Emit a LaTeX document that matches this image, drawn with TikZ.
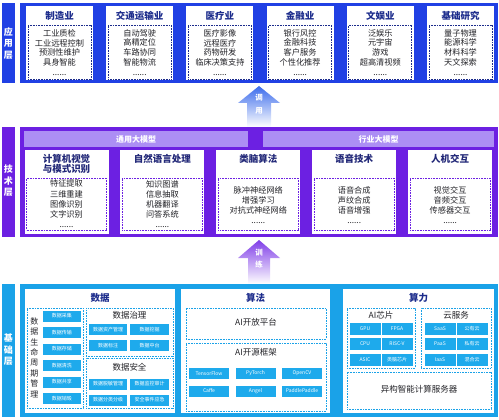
\documentclass[tikz,border=0pt]{standalone}
\usepackage{fontspec}
\setmainfont{Noto Sans CJK SC}
\definecolor{appblue}{RGB}{32,64,228}
\definecolor{appnavy}{RGB}{28,44,140}
\definecolor{techpurple}{RGB}{108,32,226}
\definecolor{technavy}{RGB}{34,40,120}
\definecolor{lavender}{RGB}{172,142,244}
\definecolor{baseblue}{RGB}{26,162,232}
\definecolor{chipblue}{RGB}{30,170,236}
\definecolor{inktext}{RGB}{35,35,40}
\definecolor{arrowblue}{RGB}{60,108,236}
\definecolor{arrowpurple}{RGB}{128,62,232}

\begin{document}
\begin{tikzpicture}[x=1pt,y=-1pt,
  box/.style={inner sep=0pt,outer sep=0pt},
  card/.style={box,fill=white},
  dotbox/.style={box,draw=#1,dash pattern=on .8pt off .8pt,line width=.7pt},
  bartext/.style={text=white,font=\bfseries\fontsize{9}{11.5}\selectfont,align=center},
  cardtitle/.style={font=\bfseries\fontsize{9.5}{10.5}\selectfont,text=#1,align=center},
  itemlist/.style={font=\fontsize{8.2}{9.9}\selectfont,text=inktext,align=center},
  subtitle/.style={font=\fontsize{8.5}{10}\selectfont,text=inktext},
  chip/.style={box,fill=chipblue,text=white,font=\fontsize{5}{6}\selectfont}]

\useasboundingbox (0,0) rectangle (499,420);

% application layer
\node [box,fill=appblue,minimum width=13,minimum height=80] at (8.5,43) (appbar) {};
\node [bartext] at (8.5,43.5) (appbarl) {应\\用\\层};
\node [box,fill=appblue,minimum width=478,minimum height=80] at (259,43) (apppanel) {};

\node [card,minimum width=67,minimum height=74] at (59.5,43) (app0) {};
\node [card,minimum width=67,minimum height=74] at (139.7,43) (app1) {};
\node [card,minimum width=67,minimum height=74] at (219.9,43) (app2) {};
\node [card,minimum width=67,minimum height=74] at (300.1,43) (app3) {};
\node [card,minimum width=67,minimum height=74] at (380.3,43) (app4) {};
\node [card,minimum width=67,minimum height=74] at (460.5,43) (app5) {};

\node [cardtitle=appnavy] at (59.5,16) (appt0) {制造业};
\node [cardtitle=appnavy] at (139.7,16) (appt1) {交通运输业};
\node [cardtitle=appnavy] at (219.9,16) (appt2) {医疗业};
\node [cardtitle=appnavy] at (300.1,16) (appt3) {金融业};
\node [cardtitle=appnavy] at (380.3,16) (appt4) {文娱业};
\node [cardtitle=appnavy] at (460.5,16) (appt5) {基础研究};

\node [dotbox=appnavy,minimum width=63,minimum height=54] at (59.5,52) (appd0) {};
\node [dotbox=appnavy,minimum width=63,minimum height=54] at (139.7,52) (appd1) {};
\node [dotbox=appnavy,minimum width=63,minimum height=54] at (219.9,52) (appd2) {};
\node [dotbox=appnavy,minimum width=63,minimum height=54] at (300.1,52) (appd3) {};
\node [dotbox=appnavy,minimum width=63,minimum height=54] at (380.3,52) (appd4) {};
\node [dotbox=appnavy,minimum width=63,minimum height=54] at (460.5,52) (appd5) {};

\node [itemlist] at (59.5,52.5) (appi0) {工业质检\\工业远程控制\\预测性维护\\具身智能\\......};
\node [itemlist] at (139.7,52.5) (appi1) {自动驾驶\\高精定位\\车路协同\\智能物流\\......};
\node [itemlist] at (219.9,52.5) (appi2) {医疗影像\\远程医疗\\药物研发\\临床决策支持\\......};
\node [itemlist] at (300.1,52.5) (appi3) {银行风控\\金融科技\\客户服务\\个性化推荐\\......};
\node [itemlist] at (380.3,52.5) (appi4) {泛娱乐\\元宇宙\\游戏\\超高清视频\\......};
\node [itemlist] at (460.5,52.5) (appi5) {量子物理\\能源科学\\材料科学\\天文探索\\......};

% arrow: call
\shade [top color=arrowblue,bottom color=white] (238,103) -- (259,86) -- (280,103) -- (271,103) -- (271,127) -- (247,127) -- (247,103) -- cycle;
\node [bartext,font=\bfseries\fontsize{7.5}{13}\selectfont] at (259,104) (call) {调\\用};

% technology layer
\node [box,fill=techpurple,minimum width=13,minimum height=110] at (8.5,182) (techbar) {};
\node [bartext] at (8.5,181) (techbarl) {技\\术\\层};
\node [box,fill=techpurple,minimum width=478,minimum height=110] at (259,182) (techpanel) {};

\node [box,fill=lavender,minimum width=224,minimum height=16] at (136,139) (gen) {};
\node [bartext,font=\bfseries\fontsize{8}{10}\selectfont] at (136,139) (genl) {通用大模型};
\node [box,fill=lavender,minimum width=231,minimum height=16] at (378.5,139) (ind) {};
\node [bartext,font=\bfseries\fontsize{8}{10}\selectfont] at (378.5,139) (indl) {行业大模型};

\node [card,minimum width=84,minimum height=84] at (66.5,192) (tech0) {};
\node [card,minimum width=84,minimum height=84] at (162.4,192) (tech1) {};
\node [card,minimum width=84,minimum height=84] at (258.3,192) (tech2) {};
\node [card,minimum width=84,minimum height=84] at (354.2,192) (tech3) {};
\node [card,minimum width=84,minimum height=84] at (450.1,192) (tech4) {};

\node [cardtitle=technavy] at (66.5,164) (techt0) {计算机视觉\\与模式识别};
\node [cardtitle=technavy] at (162.4,159) (techt1) {自然语言处理};
\node [cardtitle=technavy] at (258.3,159) (techt2) {类脑算法};
\node [cardtitle=technavy] at (354.2,159) (techt3) {语音技术};
\node [cardtitle=technavy] at (450.1,159) (techt4) {人机交互};

\node [dotbox=techpurple,minimum width=80,minimum height=52] at (66.5,204) (techd0) {};
\node [dotbox=techpurple,minimum width=80,minimum height=52] at (162.4,204) (techd1) {};
\node [dotbox=techpurple,minimum width=80,minimum height=52] at (258.3,204) (techd2) {};
\node [dotbox=techpurple,minimum width=80,minimum height=52] at (354.2,204) (techd3) {};
\node [dotbox=techpurple,minimum width=80,minimum height=52] at (450.1,204) (techd4) {};

\node [itemlist,font=\fontsize{8.2}{10.2}\selectfont] at (66.5,204) (techi0) {特征提取\\三维重建\\图像识别\\文字识别\\......};
\node [itemlist,font=\fontsize{8.2}{10.2}\selectfont] at (162.4,204) (techi1) {知识图谱\\信息抽取\\机器翻译\\问答系统\\......};
\node [itemlist] at (258.3,205) (techi2) {脉冲神经网络\\增强学习\\对抗式神经网络\\......};
\node [itemlist] at (354.2,205) (techi3) {语音合成\\声纹合成\\语音增强\\......};
\node [itemlist] at (450.1,205) (techi4) {视觉交互\\音频交互\\传感器交互\\......};

% arrow: train
\shade [top color=arrowpurple,bottom color=white] (238,258) -- (259,240) -- (280,258) -- (270,258) -- (270,284) -- (248,284) -- (248,258) -- cycle;
\node [bartext,font=\bfseries\fontsize{7.5}{12}\selectfont] at (259,259) (train) {训\\练};

% base layer
\node [box,fill=baseblue,minimum width=13,minimum height=133] at (8.5,350.5) (basebar) {};
\node [bartext] at (8.5,350) (basebarl) {基\\础\\层};
\node [box,fill=baseblue,minimum width=478,minimum height=133] at (259,350.5) (basepanel) {};

% data
\node [card,minimum width=150,minimum height=124] at (100,351) (dat) {};
\node [cardtitle=appnavy] at (100,298) (datt) {数据};
\node [dotbox=baseblue,minimum width=56,minimum height=100] at (55,358) (life) {};
\node [subtitle,font=\fontsize{8}{10.4}\selectfont,align=center] at (34.5,357.5) (lifet) {数\\据\\生\\命\\周\\期\\管\\理};
\node [chip,minimum width=38,minimum height=11] at (62,316) (l0) {数据采集};
\node [chip,minimum width=38,minimum height=11] at (62,332.5) (l1) {数据传输};
\node [chip,minimum width=38,minimum height=11] at (62,349) (l2) {数据存储};
\node [chip,minimum width=38,minimum height=11] at (62,365.5) (l3) {数据清洗};
\node [chip,minimum width=38,minimum height=11] at (62,382) (l4) {数据共享};
\node [chip,minimum width=38,minimum height=11] at (62,398.5) (l5) {数据销毁};

\node [dotbox=baseblue,minimum width=87,minimum height=48] at (129.5,332) (gov) {};
\node [subtitle] at (129.5,315) (govt) {数据治理};
\node [chip,minimum width=38,minimum height=11] at (108,329.5) (g0) {数据资产管理};
\node [chip,minimum width=39,minimum height=11] at (149.5,329.5) (g1) {数据挖掘};
\node [chip,minimum width=38,minimum height=11] at (108,345.5) (g2) {数据标注};
\node [chip,minimum width=39,minimum height=11] at (149.5,345.5) (g3) {数据中台};

\node [dotbox=baseblue,minimum width=87,minimum height=50] at (129.5,383) (sec) {};
\node [subtitle] at (129.5,367.5) (sect) {数据安全};
\node [chip,minimum width=38,minimum height=11] at (108,384) (s0) {数据脱敏管理};
\node [chip,minimum width=39,minimum height=11] at (149.5,384) (s1) {数据监控审计};
\node [chip,minimum width=38,minimum height=11] at (108,400) (s2) {数据分类分级};
\node [chip,minimum width=39,minimum height=11] at (149.5,400) (s3) {安全事件应急};

% algorithms
\node [card,minimum width=149,minimum height=124] at (255.5,351) (alg) {};
\node [cardtitle=appnavy] at (255.5,298) (algt) {算法};
\node [dotbox=baseblue,minimum width=140,minimum height=31] at (256,323.5) (open) {};
\node [subtitle] at (256,322.5) (opent) {AI开放平台};
\node [dotbox=baseblue,minimum width=140,minimum height=68] at (256,377) (frame) {};
\node [subtitle] at (256,352.5) (framet) {AI开源框架};
\node [chip,minimum width=40,minimum height=11] at (209,373.5) (f0) {TensorFlow};
\node [chip,minimum width=40,minimum height=11] at (255.5,373.5) (f1) {PyTorch};
\node [chip,minimum width=40,minimum height=11] at (302,373.5) (f2) {OpenCV};
\node [chip,minimum width=40,minimum height=11] at (209,391) (f3) {Caffe};
\node [chip,minimum width=40,minimum height=11] at (255.5,391) (f4) {Angel};
\node [chip,minimum width=40,minimum height=11] at (302,391) (f5) {PaddlePaddle};

% computing power
\node [card,minimum width=151,minimum height=124] at (418.5,351) (pow) {};
\node [cardtitle=appnavy] at (418.5,298) (powt) {算力};
\node [dotbox=baseblue,minimum width=68,minimum height=60] at (381,338) (aichip) {};
\node [subtitle] at (381,315.5) (aichipt) {AI芯片};
\node [chip,minimum width=31,minimum height=12] at (365,328.5) (c0) {GPU};
\node [chip,minimum width=31,minimum height=12] at (397,328.5) (c1) {FPGA};
\node [chip,minimum width=31,minimum height=12] at (365,344) (c2) {CPU};
\node [chip,minimum width=31,minimum height=12] at (397,344) (c3) {RISC-V};
\node [chip,minimum width=31,minimum height=12] at (365,359.5) (c4) {ASIC};
\node [chip,minimum width=31,minimum height=12] at (397,359.5) (c5) {类脑芯片};
\node [dotbox=baseblue,minimum width=70,minimum height=60] at (456,338) (cloud) {};
\node [subtitle] at (456,315.5) (cloudt) {云服务};
\node [chip,minimum width=31,minimum height=12] at (440,328.5) (k0) {SaaS};
\node [chip,minimum width=31,minimum height=12] at (472,328.5) (k1) {公有云};
\node [chip,minimum width=31,minimum height=12] at (440,344) (k2) {PaaS};
\node [chip,minimum width=31,minimum height=12] at (472,344) (k3) {私有云};
\node [chip,minimum width=31,minimum height=12] at (440,359.5) (k4) {IaaS};
\node [chip,minimum width=31,minimum height=12] at (472,359.5) (k5) {混合云};
\node [dotbox=baseblue,minimum width=144,minimum height=37] at (419,390.5) (server) {};
\node [subtitle] at (419,389.5) (servert) {异构智能计算服务器};

\end{tikzpicture}
\end{document}
